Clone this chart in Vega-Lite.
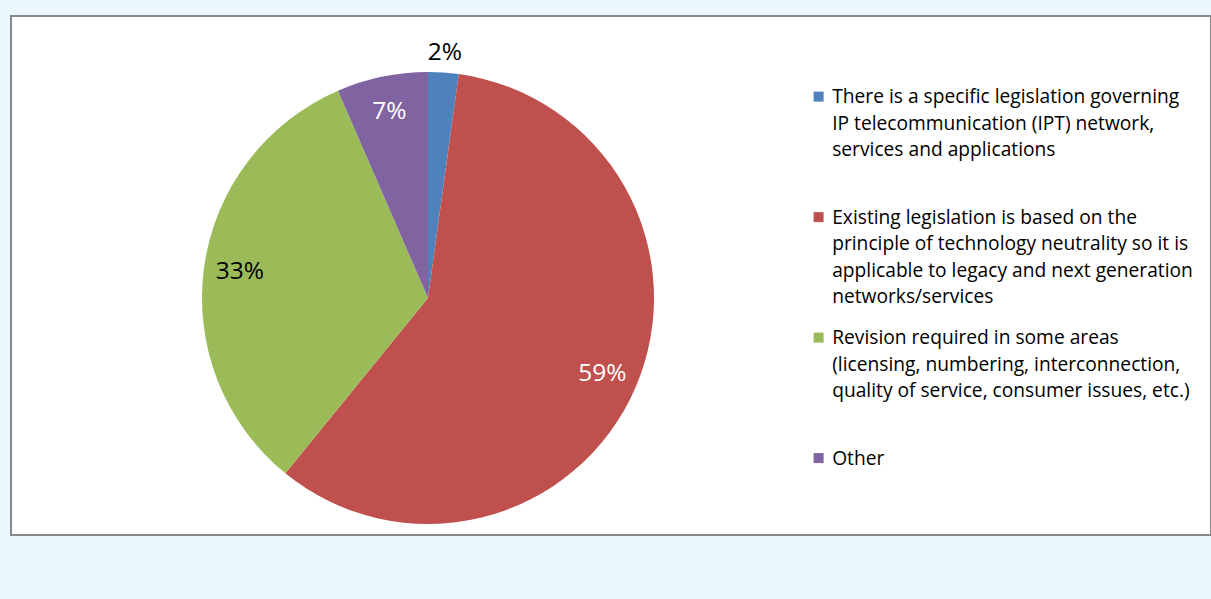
{
  "$schema": "https://vega.github.io/schema/vega-lite/v6.json",
  "width": 1200,
  "height": 519,
  "autosize": "none",
  "padding": {"left": 11, "top": 16, "right": 0, "bottom": 64},
  "background": "#EAF7FC",
  "view": {"fill": "white", "stroke": "#888888", "strokeWidth": 2},
  "data": {
    "values": [
      {"i": 1, "cat": "There is a specific legislation governing\nIP telecommunication (IPT) network,\nservices and applications", "count": 1, "pct": "2%"},
      {"i": 2, "cat": "Existing legislation is based on the\nprinciple of technology neutrality so it is\napplicable to legacy and next generation\nnetworks/services", "count": 27, "pct": "59%"},
      {"i": 3, "cat": "Revision required in some areas\n(licensing, numbering, interconnection,\nquality of service, consumer issues, etc.)", "count": 15, "pct": "33%"},
      {"i": 4, "cat": "Other", "count": 3, "pct": "7%"}
    ]
  },
  "encoding": {
    "theta": {"field": "count", "type": "quantitative", "stack": true},
    "order": {"field": "i", "type": "ordinal"}
  },
  "layer": [
    {
      "mark": {"type": "arc", "x": 417, "y": 282, "outerRadius": 226},
      "encoding": {
        "color": {
          "field": "cat",
          "type": "nominal",
          "scale": {
            "domain": [
              "There is a specific legislation governing\nIP telecommunication (IPT) network,\nservices and applications",
              "Existing legislation is based on the\nprinciple of technology neutrality so it is\napplicable to legacy and next generation\nnetworks/services",
              "Revision required in some areas\n(licensing, numbering, interconnection,\nquality of service, consumer issues, etc.)",
              "Other"
            ],
            "range": ["#4F81BD", "#C0504D", "#9BBB59", "#8064A2"]
          },
          "legend": {
            "orient": "none",
            "legendX": 798,
            "legendY": 71,
            "title": null,
            "symbolType": "square",
            "symbolSize": 100,
            "symbolStrokeWidth": 0,
            "labelFont": "Open Sans",
            "labelFontSize": 19.2,
            "labelColor": "#000000",
            "labelLimit": 0,
            "labelOffset": 4,
            "labelBaseline": "alphabetic",
            "labelExpr": "split(datum.label, '\\n')",
            "gridAlign": "all",
            "rowPadding": 20.5,
            "encode": {"labels": {"update": {"lineHeight": {"value": 26.5}, "dy": {"value": 6.5}}}}
          }
        }
      }
    },
    {
      "mark": {"type": "text", "x": 417, "y": 282, "radius": 190, "font": "Open Sans", "fontSize": 24.5, "align": "center", "baseline": "middle"},
      "encoding": {
        "text": {"condition": {"test": "datum.i == 1", "value": ""}, "field": "pct", "type": "nominal"},
        "color": {"condition": {"test": "datum.i == 3", "value": "#000000"}, "value": "#FFFFFF"}
      }
    },
    {
      "mark": {"type": "text", "x": 417, "y": 282, "radius": 246, "font": "Open Sans", "fontSize": 24.5, "align": "center", "baseline": "middle", "color": "#000000"},
      "encoding": {
        "text": {"condition": {"test": "datum.i != 1", "value": ""}, "field": "pct", "type": "nominal"}
      }
    }
  ]
}
